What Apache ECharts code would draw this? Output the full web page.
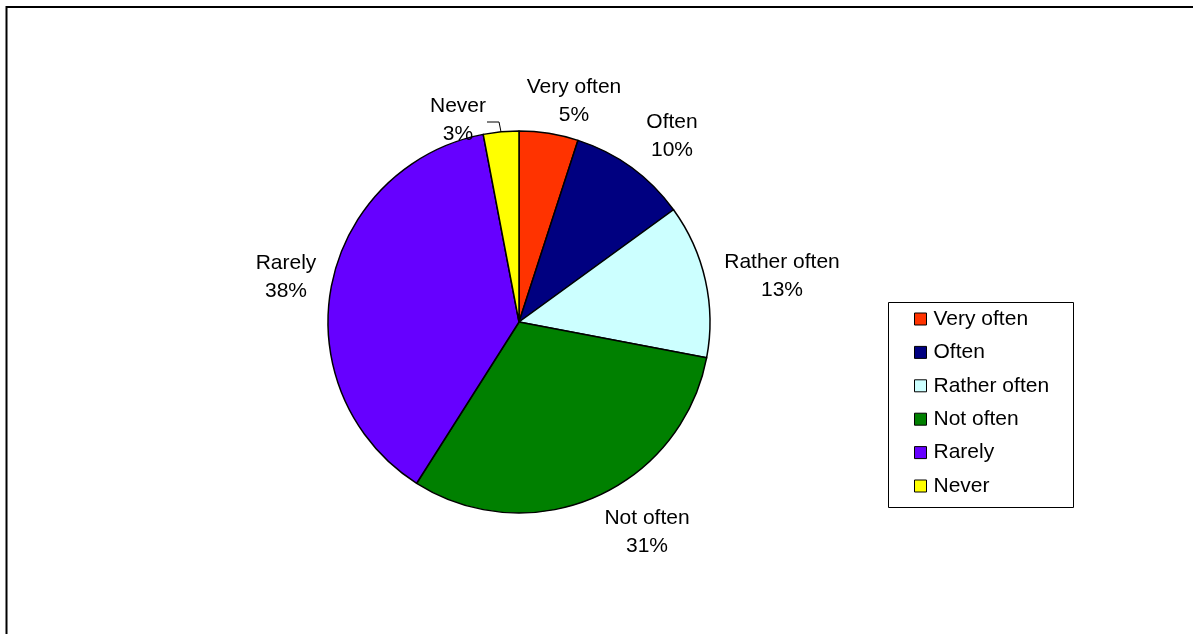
<!DOCTYPE html>
<html>
<head>
<meta charset="utf-8">
<title>How often</title>
<script src="https://cdn.jsdelivr.net/npm/echarts@6/dist/echarts.min.js"></script>
<style>
  html, body { margin: 0; padding: 0; background: #fff; }
  #chart { width: 1193px; height: 634px; }
</style>
</head>
<body>
<div id="chart"></div>
<script>
// Answer categories and their shares (percent)
const categories = ['Very often', 'Often', 'Rather often', 'Not often', 'Rarely', 'Never'];
const shares = [5, 10, 13, 31, 38, 3];
const colors = ['#FF3300', '#000080', '#CCFFFF', '#008000', '#6600FF', '#FFFF00'];

// Pie geometry
const CX = 519, CY = 322, R = 191;
const FONT = "'Liberation Sans', Arial, sans-serif";

// Label block centres, as offsets from the pie centre
const labelOffsets = [
  [55, -221],
  [153, -186],
  [263, -46],
  [128, 210],
  [-233, -45],
  [-61, -202]
];

const total = shares.reduce((a, b) => a + b, 0);
// mid angle of each slice, clockwise from 12 o'clock (degrees)
const midAngles = [];
let acc = 0;
shares.forEach(v => {
  const a = v / total * 360;
  midAngles.push(acc + a / 2);
  acc += a;
});

const chart = echarts.init(document.getElementById('chart'), null, { renderer: 'canvas' });

chart.setOption({
  backgroundColor: '#fff',
  animation: false,
  textStyle: { fontFamily: FONT },
  graphic: [
    {
      type: 'rect',
      shape: { x: 6.5, y: 7, width: 1220, height: 660 },
      style: { fill: null, stroke: '#000', lineWidth: 2 },
      silent: true
    },
    {
      type: 'rect',
      shape: { x: 888.5, y: 302.5, width: 185, height: 205 },
      style: { fill: '#fff', stroke: '#000', lineWidth: 1 },
      silent: true,
      z: 0
    }
  ],
  legend: {
    orient: 'vertical',
    left: 914,
    top: 308.5,
    padding: 0,
    itemWidth: 12,
    itemHeight: 12,
    itemGap: 12.4,
    icon: 'rect',
    selectedMode: false,
    itemStyle: { borderColor: '#000', borderWidth: 1 },
    textStyle: { fontFamily: FONT, fontSize: 21, lineHeight: 21, color: '#000', padding: [0, 0, 0, 2] },
    data: categories,
    z: 5
  },
  series: [{
    type: 'pie',
    center: [CX, CY],
    radius: R,
    startAngle: 90,
    clockwise: true,
    avoidLabelOverlap: false,
    silent: true,
    itemStyle: { borderColor: '#000', borderWidth: 1.5 },
    label: {
      show: true,
      position: 'outside',
      fontFamily: FONT,
      fontSize: 21,
      lineHeight: 28,
      color: '#000',
      align: 'center',
      formatter: p => p.name + '\n' + Math.round(p.percent) + '%'
    },
    labelLine: { show: false },
    labelLayout: function (params) {
      const i = params.dataIndex;
      const off = labelOffsets[i];
      const out = {
        x: CX + off[0],
        y: CY + off[1],
        align: 'center',
        verticalAlign: 'middle'
      };
      if (i === shares.length - 1) {
        const t = midAngles[i] * Math.PI / 180;
        const ex = CX + R * Math.sin(t), ey = CY - R * Math.cos(t);
        const lineY = CY + off[1] + 2;
        out.labelLinePoints = [[ex, ey], [ex - 2, lineY], [CX + off[0] + 29, lineY]];
      }
      return out;
    },
    data: categories.map((name, i) => ({
      name: name,
      value: shares[i],
      itemStyle: { color: colors[i] },
      labelLine: i === shares.length - 1
        ? { show: true, length: 8, length2: 10, lineStyle: { color: '#000', width: 1 } }
        : { show: false }
    }))
  }]
});
</script>
</body>
</html>
